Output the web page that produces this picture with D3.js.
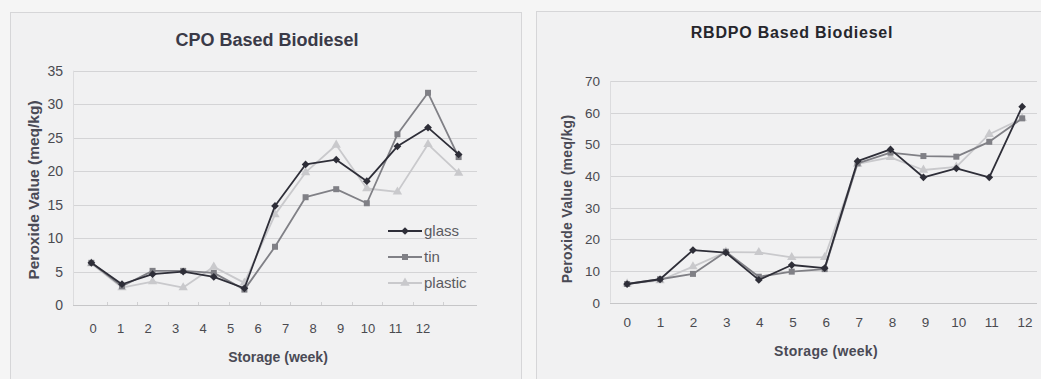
<!DOCTYPE html>
<html>
<head>
<meta charset="utf-8">
<script src="https://cdn.jsdelivr.net/npm/d3@7"></script>
<style>
html,body{margin:0;padding:0;background:#f5f5f5;}
svg{display:block;font-family:"Liberation Sans",Arial,sans-serif;}
</style>
</head>
<body>
<svg id="chart" width="1041" height="379"></svg>
<script>
const weeks = [0,1,2,3,4,5,6,7,8,9,10,11,12];
const seriesNames = ["glass","tin","plastic"];

const cpoGlass   = [6.3,3.1,4.6,5.0,4.2,2.5,14.8,21.0,21.7,18.5,23.7,26.5,22.5];
const cpoTin     = [6.3,2.8,5.1,5.1,4.8,2.3,8.7,16.1,17.3,15.2,25.5,31.7,22.1];
const cpoPlastic = [6.2,2.6,3.5,2.6,5.7,3.3,13.5,19.8,23.9,17.4,16.9,24.0,19.7];

const rbGlass   = [5.9,7.4,16.6,15.8,7.2,11.9,10.9,44.7,48.4,39.6,42.4,39.6,61.9];
const rbTin     = [5.9,7.4,9.1,16.1,8.2,9.8,10.6,44.0,47.4,46.3,46.1,50.8,58.2];
const rbPlastic = [6.0,7.0,11.4,16.0,15.9,14.3,14.3,43.8,45.9,41.9,42.9,53.2,58.2];

const cpoYTicks = [0,5,10,15,20,25,30,35];
const rbYTicks  = [0,10,20,30,40,50,60,70];

const colors  = {glass:"#2e2e38", tin:"#808086", plastic:"#c9c9cc"};
const symbols = {glass:d3.symbolSquare, tin:d3.symbolSquare, plastic:d3.symbolTriangle};
const symSize = {glass:30, tin:36, plastic:38};
const symRot  = {glass:45, tin:0, plastic:0};

const svg = d3.select("#chart");

// panels
svg.append("rect").attr("x",10.5).attr("y",12.5).attr("width",511).attr("height",380)
  .attr("fill","#f1f1f2").attr("stroke","#d6d6d8");
svg.append("rect").attr("x",536.5).attr("y",11.5).attr("width",520).attr("height",380)
  .attr("fill","#f1f1f2").attr("stroke","#d6d6d8");

function drawPanel(cfg){
  const g = svg.append("g");
  const x = d3.scaleLinear().domain(cfg.xDomain).range([cfg.left, cfg.right]);
  const y = d3.scaleLinear().domain([0, cfg.yMax]).range([cfg.bottom, cfg.top]);
  const xl = d3.scaleLinear().domain([0,12]).range(cfg.labelRange);

  // grid
  g.selectAll(".grid").data(cfg.yTicks).enter().append("line")
    .attr("x1",cfg.left).attr("x2",cfg.right)
    .attr("y1",d=>Math.round(y(d))+0.5).attr("y2",d=>Math.round(y(d))+0.5)
    .attr("stroke", d=> d===0 ? "#c6c6c8" : "#d4d4d6").attr("stroke-width",1.2);
  // y axis line
  g.append("line").attr("x1",cfg.left+0.5).attr("x2",cfg.left+0.5)
    .attr("y1",y(cfg.yMax)).attr("y2",y(0)).attr("stroke","#dcdcde");
  // small category ticks
  if(cfg.catTicks){
    g.selectAll(".ct").data(weeks.slice(1)).enter().append("line")
      .attr("x1",d=>Math.round(x(d-0.5))+0.5).attr("x2",d=>Math.round(x(d-0.5))+0.5)
      .attr("y1",y(0)-3).attr("y2",y(0)).attr("stroke","#d0d0d2");
  }
  // y tick labels
  g.selectAll(".yt").data(cfg.yTicks).enter().append("text")
    .attr("x",cfg.yLabelX).attr("y",d=>y(d)).attr("dy","0.36em")
    .attr("text-anchor","end").attr("font-size",cfg.tickSize)
    .attr("fill","#4a4a50").text(d=>d);
  // x tick labels
  g.selectAll(".xt").data(weeks).enter().append("text")
    .attr("x",d=>xl(d)).attr("y",cfg.xLabelY).attr("dy","0.36em")
    .attr("text-anchor","middle").attr("font-size",cfg.xTickSize)
    .attr("fill","#4a4a50").text(d=>d);
  // title
  g.append("text").attr("x",cfg.titleX).attr("y",cfg.titleY).attr("dy","0.36em")
    .attr("text-anchor","middle").attr("font-size",cfg.titleSize).attr("font-weight","bold")
    .attr("letter-spacing",cfg.titleLS).attr("fill",cfg.titleColor).text(cfg.title);
  // axis titles
  g.append("text").attr("transform",`translate(${cfg.yTitleX},${cfg.yTitleY}) rotate(-90)`)
    .attr("dy","0.36em").attr("text-anchor","middle").attr("font-size",cfg.yTitleSize)
    .attr("font-weight","bold").attr("letter-spacing",cfg.axisLS).attr("fill","#4a4a55")
    .text("Peroxide Value (meq/kg)");
  g.append("text").attr("x",cfg.xTitleX).attr("y",cfg.xTitleY).attr("dy","0.36em")
    .attr("text-anchor","middle").attr("font-size",14).attr("font-weight","bold")
    .attr("letter-spacing",cfg.axisLS).attr("fill","#4a4a55").text("Storage (week)");

  // series (draw plastic first, glass on top)
  const order = ["plastic","tin","glass"];
  const line = d3.line().x((d,i)=>x(weeks[i])).y(d=>y(d));
  order.forEach(name=>{
    const vals = cfg.data[name];
    g.append("path").datum(vals).attr("d",line).attr("fill","none")
      .attr("stroke",colors[name]).attr("stroke-width",1.8).attr("stroke-linejoin","round");
    g.selectAll(".m-"+name).data(vals).enter().append("path")
      .attr("d",d3.symbol().type(symbols[name]).size(symSize[name]))
      .attr("transform",(d,i)=>`translate(${x(weeks[i])},${y(d)}) rotate(${symRot[name]})`)
      .attr("fill",colors[name]);
  });

  // legend
  if(cfg.legend){
    const lg = g.append("g");
    seriesNames.forEach((name,i)=>{
      const ly = cfg.legend.y + i*cfg.legend.dy;
      lg.append("line").attr("x1",cfg.legend.x).attr("x2",cfg.legend.x+34)
        .attr("y1",ly).attr("y2",ly).attr("stroke",colors[name]).attr("stroke-width",1.8);
      lg.append("path").attr("d",d3.symbol().type(symbols[name]).size(symSize[name]))
        .attr("transform",`translate(${cfg.legend.x+17},${ly}) rotate(${symRot[name]})`).attr("fill",colors[name]);
      lg.append("text").attr("x",cfg.legend.x+36).attr("y",ly).attr("dy","0.36em")
        .attr("font-size",15).attr("fill","#5a5a60").text(name);
    });
  }
}

drawPanel({
  xDomain:[-0.6,12.6], left:73, right:477, top:70.7, bottom:305, yMax:35,
  yTicks:cpoYTicks, labelRange:[93,423], yLabelX:63, xLabelY:328,
  tickSize:14, xTickSize:13,
  title:"CPO Based Biodiesel", titleX:267, titleY:40, titleSize:18, titleLS:0, titleColor:"#3a3a48",
  yTitleX:33, yTitleY:190, yTitleSize:15.5, axisLS:0,
  xTitleX:278, xTitleY:357, catTicks:true,
  data:{glass:cpoGlass, tin:cpoTin, plastic:cpoPlastic},
  legend:{x:388, y:231, dy:26}
});

drawPanel({
  xDomain:[-0.52,12.45], left:610, right:1037, top:81, bottom:302.7, yMax:70,
  yTicks:rbYTicks, labelRange:[627.3,1025], yLabelX:600, xLabelY:322,
  tickSize:13.5, xTickSize:13.5,
  title:"RBDPO Based Biodiesel", titleX:792, titleY:32, titleSize:16, titleLS:0.8, titleColor:"#26262c",
  yTitleX:567, yTitleY:199, yTitleSize:14, axisLS:0.3,
  xTitleX:826, xTitleY:351, catTicks:false,
  data:{glass:rbGlass, tin:rbTin, plastic:rbPlastic},
  legend:null
});
</script>
</body>
</html>
